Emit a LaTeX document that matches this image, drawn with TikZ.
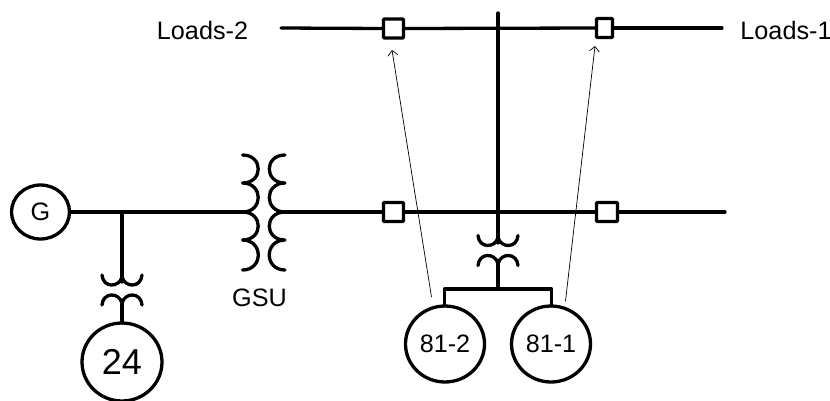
\documentclass[tikz,border=0pt]{standalone}
\usepackage{fontspec}
\setmainfont{Liberation Sans}
\usetikzlibrary{shapes.geometric,arrows.meta}
\tikzset{
  wire/.style={line width=3.3pt,line cap=round,line join=round},
  relay/.style={shape=ellipse,draw,line width=3.3pt,inner sep=0pt,outer sep=0pt,font=\fontsize{25.2}{28}\selectfont},
  breaker/.style={shape=rectangle,draw,line width=3.3pt,rounded corners=1pt,inner sep=0pt,outer sep=0pt,minimum height=19pt},
  lbl/.style={inner sep=0pt,font=\fontsize{25.2}{28}\selectfont},
  signal/.style={line width=0.7pt,-{Straight Barb[length=5pt,width=10pt]}},
  pics/smalltx/.style={code={
    \draw[wire] (-20,0) .. controls (-19,13) and (-3,13) .. (0,2) .. controls (3,13) and (19,13) .. (20,0);
    \draw[wire] (-20,30) .. controls (-19,17) and (-3,17) .. (0,28) .. controls (3,17) and (19,17) .. (20,30);
  }},
  pics/bigcoil/.style={code={
    \draw[wire] (0,0) .. controls (21,0) and (21,28) .. (0,28)
      .. controls (21,28) and (21,57) .. (0,57)
      .. controls (21,57) and (21,85) .. (0,85)
      .. controls (21,85) and (21,115) .. (0,115);
  }}
}
\begin{document}
\begin{tikzpicture}[x=1pt,y=-1pt]
\useasboundingbox (0,0) rectangle (830,400);
\begin{scope}
\clip (0,0) rectangle (830,400);
% devices
\node[relay,minimum width=58pt,minimum height=54pt] (G) at (40.5,212) {G};
\node[relay,minimum width=80pt,minimum height=78pt,font=\fontsize{36}{40}\selectfont] (R24) at (122,362) {24};
\node[relay,minimum width=79pt,minimum height=76pt] (R812) at (445,344) {81-2};
\node[relay,minimum width=79pt,minimum height=76pt] (R811) at (551,344) {81-1};
\node[breaker,minimum width=20pt] (B1) at (393.5,212) {};
\node[breaker,minimum width=21pt] (B2) at (607,212) {};
\node[breaker,minimum width=20pt] (B3) at (393.5,28.5) {};
\node[breaker,minimum width=16pt] (B4) at (604.5,28) {};
% labels
\node[lbl] (L2) at (202.5,30) {Loads-2};
\node[lbl] (L1) at (786,30) {Loads-1};
\node[lbl] (GSU) at (259.5,298) {GSU};
% junctions and free ends
\coordinate (TL) at (281,28);
\coordinate (TR) at (722,28);
\coordinate (TT) at (498,13);
\coordinate (MR) at (725,212);
\coordinate (GL) at (243,212);
\coordinate (GR) at (285,212);
\coordinate (J24) at (122,212);
\coordinate (T24a) at (122,282);
\coordinate (T24b) at (122,303);
\coordinate (R24t) at (122,323);
\coordinate (T81a) at (498,243);
\coordinate (T81b) at (498,263);
\coordinate (Bus) at (498,289);
\coordinate (BusL) at (444.5,289);
\coordinate (BusR) at (551.5,289);
\coordinate (DL) at (444.5,306);
\coordinate (DR) at (551.5,306);
\coordinate (A1s) at (431.5,297);
\coordinate (A1e) at (392,50);
\coordinate (A2s) at (565.5,301);
\coordinate (A2e) at (595,46);
% busbars
\draw[wire] (TL) -- (B3.west);
\draw[wire] (B3.east) -- (B4.west);
\draw[wire] (B4.east) -- (TR);
\draw[wire] (G.east) -- (GL);
\draw[wire] (GR) -- (B1.west);
\draw[wire] (B1.east) -- (B2.west);
\draw[wire] (B2.east) -- (MR);
\draw[wire] (J24) -- (T24a);
\draw[wire] (T24b) -- (R24t);
\draw[wire] (TT) -- (T81a);
\draw[wire] (T81b) -- (Bus);
\draw[wire] (DL) -- (BusL) -- (BusR) -- (DR);
% transformers
\pic at (122,275) {smalltx};
\pic at (498,235.5) {smalltx};
\pic at (242.5,155) {bigcoil};
\pic[xscale=-1] at (285,155) {bigcoil};
% signal arrows
\draw[signal] (A1s) -- (A1e);
\draw[signal] (A2s) -- (A2e);
\end{scope}
\end{tikzpicture}
\end{document}
